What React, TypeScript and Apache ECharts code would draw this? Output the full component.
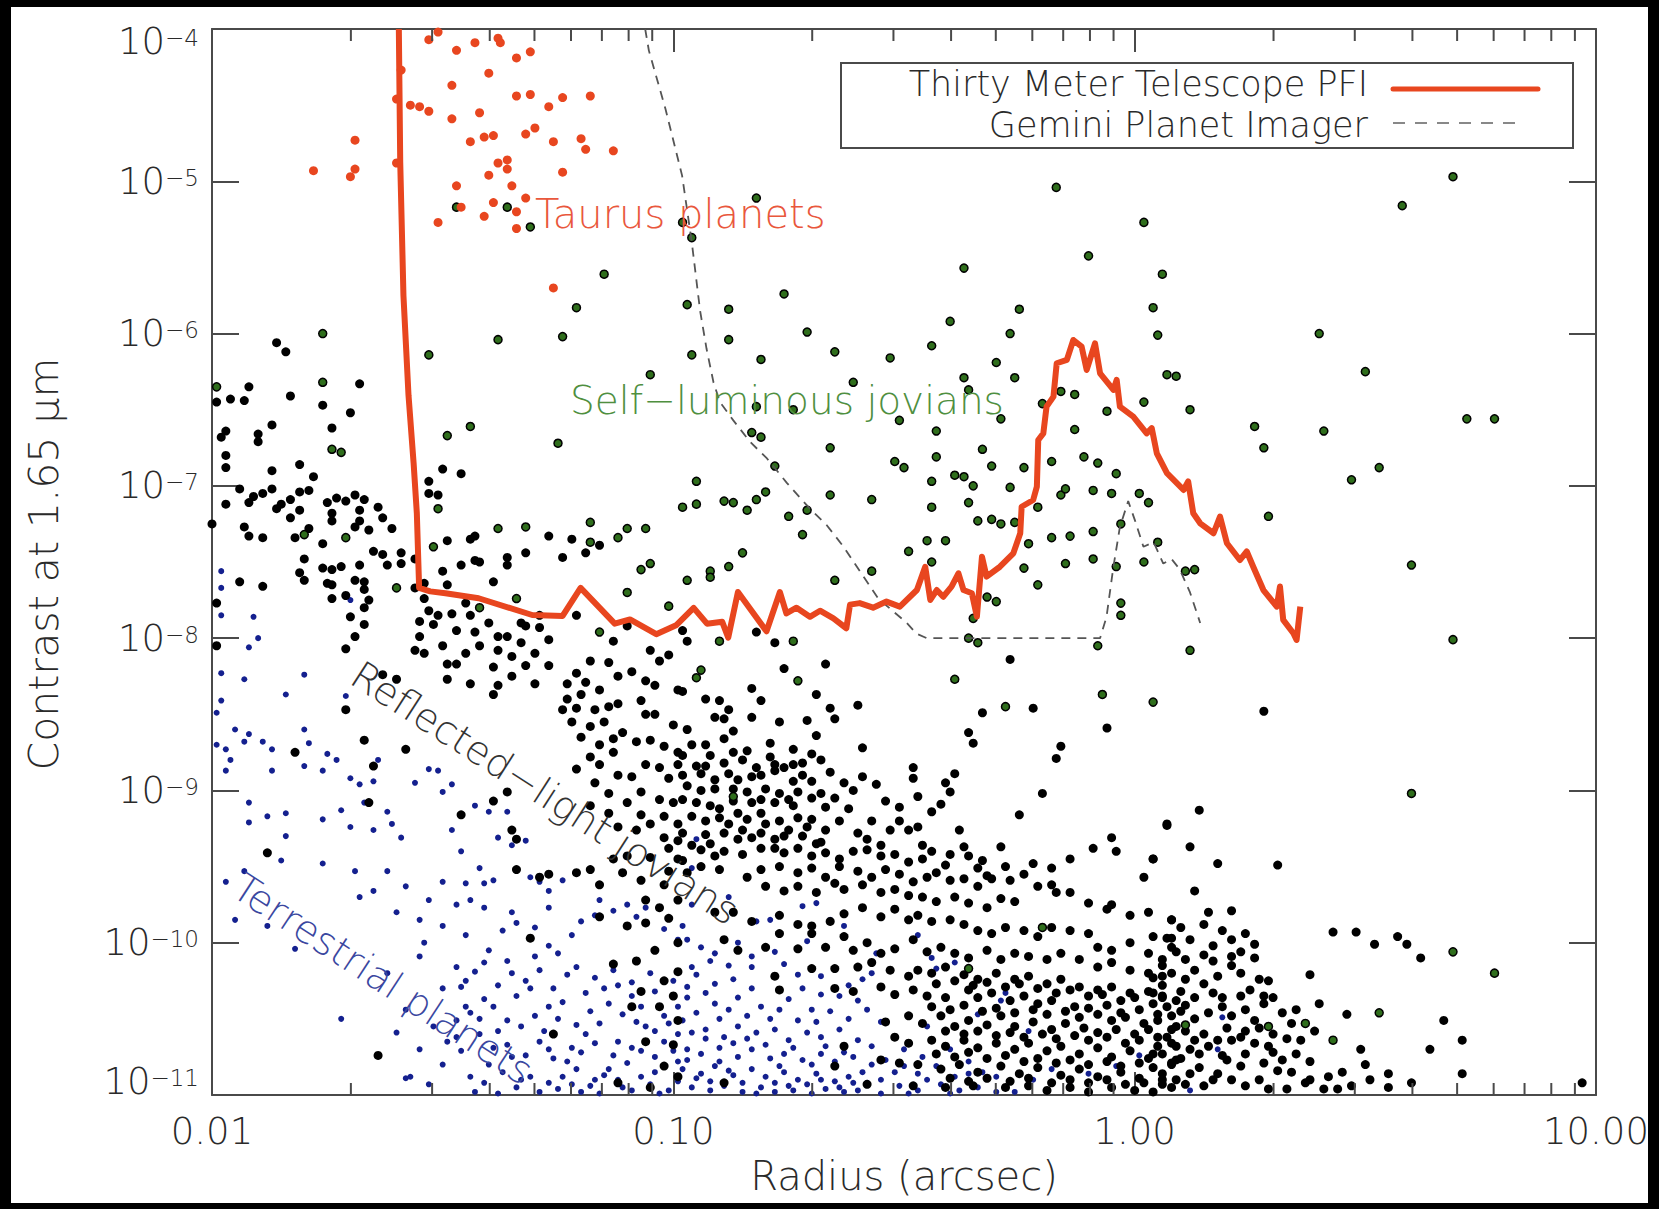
import React, { useEffect, useRef } from 'react';
import * as echarts from 'echarts';

// All point values are stored as [log10(radius in arcsec), log10(contrast)].
const minorTicks = [0.02, 0.03, 0.04, 0.05, 0.06, 0.07, 0.08, 0.09, 0.2, 0.3, 0.4, 0.5, 0.6, 0.7, 0.8, 0.9, 2, 3, 4, 5, 6, 7, 8, 9];
const yEndExponents = [-4, -11];

const taurus = [
  [-1.51,-4.02],[-1.53,-4.07],[-1.47,-4.14],[-1.43,-4.09],[-1.38,-4.06],[-1.375,-4.09],[-1.34,-4.19],[-1.31,-4.15],[-1.40,-4.29],[-1.48,-4.37],
  [-1.34,-4.44],[-1.31,-4.43],[-1.24,-4.45],[-1.18,-4.44],[-1.27,-4.51],[-1.60,-4.46],[-1.57,-4.50],[-1.55,-4.51],[-1.53,-4.54],[-1.48,-4.59],
  [-1.42,-4.55],[-1.69,-4.73],[-1.44,-4.74],[-1.41,-4.71],[-1.39,-4.70],[-1.32,-4.69],[-1.30,-4.65],[-1.26,-4.74],[-1.20,-4.72],[-1.19,-4.79],
  [-1.13,-4.80],[-1.78,-4.93],[-1.69,-4.92],[-1.70,-4.97],[-1.60,-4.88],[-1.38,-4.88],[-1.36,-4.86],[-1.36,-4.92],[-1.40,-4.96],[-1.24,-4.94],
  [-1.47,-5.03],[-1.35,-5.03],[-1.32,-5.11],[-1.46,-5.17],[-1.39,-5.14],[-1.34,-5.20],[-1.51,-5.27],[-1.41,-5.23],[-1.34,-5.31],[-1.26,-5.70],
  [-1.59,-4.27]
];

const selfLuminous = [
  [-1.47,-5.17],[-1.36,-5.17],[-1.31,-5.30],[-1.15,-5.61],[-1.21,-5.83],[-0.97,-5.81],[-0.96,-5.37],[-0.98,-5.27],[-1.38,-6.04],[-1.24,-6.02],
  [-0.96,-6.14],[-1.53,-6.14],[-1.76,-6.00],[-1.05,-6.27],[-1.76,-6.32],[-1.99,-6.35],[-1.44,-6.61],[-1.49,-6.67],[-1.25,-6.72],[-1.74,-6.76],
  [-1.72,-6.78],[-0.95,-6.97],[-0.98,-7.14],[-0.95,-7.12],[-1.51,-7.15],[-1.38,-7.28],[-1.32,-7.27],[-1.18,-7.24],[-1.10,-7.28],[-1.06,-7.28],
  [-1.18,-7.37],[-1.12,-7.34],[-1.71,-7.34],[-1.80,-7.32],[-1.52,-7.40],
  [-0.82,-5.11],[-0.17,-5.04],[0.02,-5.27],[-0.10,-5.49],[-0.37,-5.57],[0.06,-5.61],[-0.76,-5.74],[-0.88,-5.84],[-0.25,-5.84],[0.04,-5.83],
  [-0.40,-5.92],[-0.71,-5.99],[-0.27,-6.00],[0.05,-6.01],[-0.88,-6.04],[-0.44,-6.08],[-0.81,-6.17],[-0.65,-6.12],[-0.53,-6.16],[-0.30,-6.19],
  [0.07,-6.27],[0.09,-6.28],[-0.61,-6.32],[-0.37,-6.29],[-0.26,-6.29],[-0.36,-6.37],[0.12,-6.50],[0.02,-6.45],[-0.13,-6.40],[-0.16,-6.38],
  [-0.20,-6.46],[-0.06,-6.51],[-0.82,-6.48],[-0.74,-6.50],[-0.51,-6.57],[-0.29,-6.56],[-0.13,-6.63],[-0.83,-6.65],[-0.81,-6.68],[-0.43,-6.64],
  [-0.66,-6.75],[-0.33,-6.76],[-0.78,-6.87],[-0.52,-6.84],[-0.50,-6.88],[-0.43,-6.81],[-0.31,-6.87],[-0.24,-6.88],[-0.18,-6.84],[-0.11,-6.81],
  [-0.08,-6.85],[-0.04,-6.92],[-0.39,-6.93],[-0.37,-6.94],[-0.35,-7.00],[-0.44,-6.97],[-0.27,-7.01],[-0.16,-7.06],[-0.15,-7.02],[-0.09,-7.03],
  [-0.05,-7.05],[0.01,-7.05],[0.03,-7.11],[-0.82,-7.09],[-0.80,-7.04],[-0.89,-7.10],[-0.87,-7.11],[-0.84,-7.16],[-0.66,-7.06],[-0.57,-7.09],
  [-0.44,-7.14],[-0.36,-7.11],[-0.21,-7.14],[-0.71,-7.16],[-0.75,-7.20],[-0.72,-7.32],[-0.34,-7.23],[-0.31,-7.22],[-0.29,-7.25],[-0.26,-7.24],
  [-0.18,-7.34],[-0.14,-7.33],[-0.09,-7.30],[-0.03,-7.25],[-0.45,-7.36],[-0.41,-7.36],[-0.23,-7.38],[0.05,-7.37],
  [-0.49,-7.43],[-0.44,-7.50],[-0.24,-7.54],[-0.21,-7.65],[-0.32,-7.73],[-0.30,-7.76],[-0.15,-7.51],[-0.09,-7.48],[-0.04,-7.53],[0.02,-7.50],
  [0.69,-4.97],[0.58,-5.16],[0.40,-6.00],[0.50,-6.25],[0.26,-6.61],[0.41,-6.64],[0.28,-6.75],[0.72,-6.56],[0.78,-6.56],[0.53,-6.88],
  [0.47,-6.96],[0.29,-7.20],[0.60,-7.52],[0.11,-7.56],[0.13,-7.55],
  [-0.90,-8.02],[-0.74,-8.02],[-0.95,-8.26],[-0.94,-8.21],[-0.73,-8.28],[-0.39,-8.27],[-0.35,-7.87],[-0.36,-8.00],[-0.34,-8.03],[-0.08,-8.05],
  [-0.03,-7.77],[-0.03,-7.85],[-0.28,-8.45],[-0.07,-8.37],[0.04,-8.42],[-0.87,-9.04],[-0.20,-9.90],[-0.36,-10.17],
  [0.12,-8.08],[0.69,-8.01],[0.60,-9.02],[0.69,-10.06],[0.78,-10.20],[0.53,-10.46],[0.43,-10.64],[0.37,-10.53],[0.29,-10.55],[0.11,-10.54],
  [-1.60,-7.67],[-1.42,-7.80],[-1.34,-7.74],
  [-1.16,-7.96],[-1.10,-7.70],[-1.07,-7.55],[-1.05,-7.51],[-1.01,-7.79],[-0.97,-7.62],[-0.92,-7.56],[-0.92,-7.60],[-0.88,-7.53],
  [-0.85,-7.44],[-0.65,-7.62],[-0.57,-7.56]
];

const reflected = [
  [-1.86,-6.06],[-1.84,-6.12],[-1.92,-6.35],[-1.96,-6.43],[-1.93,-6.44],[-1.99,-6.45],[-1.83,-6.41],[-1.76,-6.47],[-1.68,-6.33],[-1.70,-6.52],
  [-1.87,-6.60],[-1.74,-6.62],[-1.97,-6.64],[-1.98,-6.68],[-1.90,-6.66],[-1.90,-6.71],[-1.97,-6.80],[-1.97,-6.88],[-1.87,-6.90],[-1.81,-6.86],
  [-1.78,-6.94],[-1.50,-6.89],[-1.46,-6.92],[-1.53,-6.97],[-1.53,-7.05],[-1.51,-7.06],
  [-1.94,-7.02],[-1.97,-7.12],[-1.92,-7.11],[-1.91,-7.07],[-1.89,-7.05],[-1.87,-7.02],[-1.86,-7.15],[-1.85,-7.12],[-1.83,-7.09],[-1.81,-7.04],
  [-1.79,-7.03],[-1.83,-7.21],[-1.81,-7.16],[-1.75,-7.11],[-1.73,-7.08],[-1.71,-7.10],[-1.69,-7.06],[-1.67,-7.09],[-1.74,-7.18],[-1.74,-7.23],
  [-1.68,-7.16],[-1.68,-7.23],[-1.64,-7.14],[-1.63,-7.21],[-1.66,-7.29],[-1.69,-7.27],[-1.61,-7.28],[-1.93,-7.27],[-1.92,-7.33],[-1.89,-7.34],
  [-1.82,-7.34],[-1.79,-7.28],[-1.76,-7.38],[-2.00,-7.25],[-1.49,-7.36],[-1.44,-7.35],[-1.43,-7.33],[-1.27,-7.33],[-1.22,-7.35],[-1.16,-7.39],
  [-1.65,-7.43],[-1.63,-7.45],[-1.59,-7.44],[-1.59,-7.51],[-1.62,-7.52],[-1.68,-7.52],[-1.56,-7.48],[-1.76,-7.54],[-1.74,-7.55],[-1.72,-7.53],
  [-1.80,-7.48],[-1.81,-7.57],[-1.80,-7.62],[-1.94,-7.63],[-1.89,-7.66],[-1.75,-7.64],[-1.74,-7.65],[-1.69,-7.62],[-1.67,-7.63],[-1.67,-7.68],
  [-1.74,-7.74],[-1.71,-7.72],[-1.66,-7.75],[-1.67,-7.80],[-1.99,-7.77],[-1.70,-7.86],[-1.67,-7.91],[-1.69,-7.99],[-1.71,-8.07],[-1.99,-8.05],
  [-1.56,-7.67],[-1.54,-7.64],[-1.54,-7.74],[-1.55,-7.89],[-1.55,-7.99],[-1.56,-8.08],[-1.54,-8.10],[-1.51,-7.85],[-1.52,-7.91],[-1.49,-7.65],
  [-1.48,-7.84],[-1.44,-7.85],[-1.45,-7.77],[-1.50,-7.56],[-1.46,-7.52],[-1.43,-7.49],[-1.42,-7.50],[-1.39,-7.63],[-1.36,-7.47],[-1.36,-7.52],
  [-1.32,-7.44],[-1.40,-7.90],[-1.38,-7.99],[-1.36,-7.99],[-1.33,-7.90],[-1.32,-7.92],[-1.35,-8.12],[-1.32,-8.18],[-1.39,-8.19],[-1.49,-8.17],
  [-1.47,-8.17],[-1.49,-8.27],[-1.44,-8.30],[-1.38,-8.31],[-1.63,-8.24],[-1.60,-8.27],[-1.39,-8.37],
  [-1.53,-7.82],[-1.47,-7.95],[-1.43,-7.96],[-1.42,-8.05],[-1.38,-8.08],[-1.33,-8.03],[-1.30,-8.10],[-1.27,-8.18],[-1.45,-8.10],[-1.50,-8.05],
  [-1.35,-8.25],[-1.30,-8.30],
  [-1.24,-7.47],[-1.19,-7.44],[-1.29,-7.85],[-1.29,-7.93],[-1.27,-8.01],[-1.21,-7.85],[-1.18,-8.15],[-1.14,-8.16],[-1.10,-7.92],[-1.05,-8.08],
  [-1.03,-8.15],[-1.09,-8.22],[-1.06,-8.28],[-1.04,-8.31],[-0.99,-8.34],[-1.21,-8.23],[-1.23,-8.30],[-1.19,-8.29],[-1.16,-8.34],[-1.20,-8.37],
  [-1.23,-8.40],[-1.12,-8.25],[-1.01,-8.11],[-1.13,-8.02],
  [-1.24,-8.47],[-1.21,-8.46],[-1.17,-8.47],[-1.14,-8.45],[-1.12,-8.43],[-1.07,-8.41],[-1.06,-8.50],[-1.04,-8.50],[-1.00,-8.57],[-1.11,-8.62],
  [-1.08,-8.68],[-1.05,-8.67],[-1.02,-8.71],[-0.99,-8.75],[-1.13,-8.75],[-1.16,-8.83],[-1.12,-8.90],[-1.09,-8.91],[-1.06,-8.83],[-1.03,-8.85],
  [-1.01,-8.92],[-0.99,-8.83],[-1.07,-9.01],[-1.03,-9.06],[-1.00,-9.08],[-1.02,-9.17],[-0.99,-9.22],[-1.05,-9.22],[-1.08,-9.26],[-1.12,-9.24],
  [-0.99,-9.33],[-1.02,-9.31],[-1.01,-9.38],[-1.05,-9.44],[-1.10,-9.43],[-1.13,-9.45],[-1.18,-9.52],[-1.21,-9.54],[-1.16,-9.62],[-1.11,-9.54],
  [-1.07,-9.59],[-1.02,-9.62],[-1.01,-9.53],[-0.99,-9.45],[-1.06,-9.72],[-1.03,-9.77],[-0.99,-9.72],[-1.16,-9.83],[-1.10,-9.89],[-1.06,-9.87],
  [-1.01,-9.84],[-0.99,-10.00],[-1.04,-10.05],[-1.08,-10.12],[-1.13,-10.14],[-0.99,-10.19],[-1.02,-10.25],[-1.00,-10.35],[-1.07,-10.32],[-0.99,-10.51],
  [-1.03,-10.42],[-1.09,-10.42],[-1.06,-10.65],[-1.00,-10.67],[-1.02,-10.81],[-0.99,-10.88],[-1.05,-10.95],[-1.12,-10.92],
  [-1.22,-8.55],[-1.18,-8.58],[-1.15,-8.55],[-1.20,-8.65],[-1.16,-8.70],[-1.13,-8.66],[-1.18,-8.78],[-1.21,-8.86],[-1.17,-8.95],[-1.14,-9.02],
  [-1.10,-9.08],[-1.18,-9.10],[-1.14,-9.15],[-1.07,-9.16],
  [-1.71,-8.47],[-1.67,-8.67],[-1.58,-8.73],[-1.82,-8.75],[-1.88,-9.41],[-1.65,-8.84],[-1.66,-9.08],[-1.46,-9.16],[-1.39,-9.07],[-1.36,-9.01],
  [-1.35,-9.26],[-1.34,-9.32],[-1.34,-9.52],[-1.27,-9.55],[-1.31,-9.97],[-1.29,-9.57],[-1.26,-10.60],[-1.64,-10.74],
  [-0.98,-7.95],[-0.97,-8.02],[-0.82,-7.96],[-0.78,-8.03],[-0.67,-8.17],[-0.76,-8.20],[-0.83,-8.33],[-0.81,-8.41],[-0.98,-8.35],[-0.93,-8.40],
  [-0.90,-8.41],[-0.88,-8.47],[-0.91,-8.52],[-0.89,-8.53],[-0.83,-8.52],[-0.77,-8.55],[-0.71,-8.54],[-0.69,-8.37],[-0.66,-8.46],[-0.65,-8.53],
  [-0.60,-8.44],[-0.69,-8.64],[-0.97,-8.60],[-0.87,-8.61],[-0.89,-8.66],[-0.93,-8.70],[-0.98,-8.77],[-0.84,-8.74],[-0.87,-8.75],[-0.79,-8.69],
  [-0.74,-8.73],[-0.68,-8.80],[-0.78,-8.83],[-0.74,-8.83],[-0.59,-8.72],[-0.27,-8.14],[-0.33,-8.49],[-0.22,-8.46],[-0.06,-8.59],[-0.36,-8.62],
  [-0.35,-8.69],[-0.16,-8.71],[-0.17,-8.79],[-0.48,-8.85],[-0.48,-8.92],[-0.59,-8.91],[-0.56,-8.96],[-0.39,-8.89],[-0.41,-8.95],[-0.40,-9.01],
  [-0.47,-9.04],[-0.54,-9.07],[-0.51,-9.11],[-0.20,-9.02],[-0.25,-9.16],[-0.44,-9.14],[-0.42,-9.09],[-0.51,-9.20],[-0.49,-9.26],[-0.47,-9.24],
  [-0.46,-9.36],[-0.53,-9.26],[-0.38,-9.26],[-0.37,-9.37],[-0.29,-9.37],[-0.09,-9.38],[-0.05,-9.31],[-0.04,-9.40],[0.07,-9.23],[0.04,-9.45],
  [0.02,-9.57],[-0.14,-9.45],[-0.22,-9.48],[-0.18,-9.51],[-0.36,-9.43],[-0.33,-9.46],[-0.41,-9.49],[-0.34,-9.51],
  [-0.96,-8.70],[-0.92,-8.77],[-0.89,-8.82],[-0.85,-8.80],[-0.82,-8.85],[-0.79,-8.78],[-0.76,-8.85],[-0.72,-8.82],[-0.70,-8.76],[-0.66,-8.88],
  [-0.63,-8.95],[-0.61,-9.00],[-0.65,-9.05],[-0.62,-9.12],[-0.64,-9.20],[-0.60,-9.28],[-0.57,-9.20],[-0.58,-9.32],[-0.55,-9.36],[-0.52,-9.42],
  [-0.49,-9.47],[-0.46,-9.45],[-0.44,-9.40],[-0.40,-9.42],[-0.32,-9.56],[-0.28,-9.50],[-0.24,-9.55],[-0.90,-9.12],[-0.88,-9.22],[-0.85,-9.26],
  [-0.80,-9.22],[-0.76,-9.30],[-0.72,-9.30],[-0.69,-9.35],[-0.96,-9.36],[-0.92,-9.35],
  [-0.95,-8.84],[-0.93,-8.84],[-0.94,-8.89],[-0.98,-8.90],[-0.91,-8.93],[-0.88,-8.89],[-0.86,-8.93],[-0.83,-8.91],[-0.81,-8.90],[-0.78,-8.87],
  [-0.74,-8.94],[-0.72,-8.90],[-0.70,-8.94],[-0.97,-8.97],[-0.94,-9.00],[-0.91,-8.99],[-0.87,-8.99],[-0.84,-9.01],[-0.80,-8.99],[-0.77,-9.02],
  [-0.75,-9.06],[-0.73,-9.01],[-0.68,-9.02],[-0.98,-9.06],[-0.95,-9.08],[-0.92,-9.10],[-0.87,-9.07],[-0.83,-9.08],[-0.81,-9.06],[-0.78,-9.08],
  [-0.74,-9.10],[-0.70,-9.05],[-0.67,-9.11],[-0.96,-9.17],[-0.93,-9.20],[-0.90,-9.18],[-0.86,-9.15],[-0.84,-9.19],[-0.81,-9.15],[-0.77,-9.20],
  [-0.73,-9.18],[-0.70,-9.19],[-0.67,-9.26],[-0.98,-9.28],[-0.93,-9.29],[-0.89,-9.28],[-0.86,-9.32],[-0.83,-9.31],[-0.81,-9.28],[-0.78,-9.32],
  [-0.75,-9.26],[-0.71,-9.24],[-0.68,-9.34],[-0.98,-9.46],[-0.94,-9.39],[-0.91,-9.43],[-0.89,-9.40],[-0.85,-9.42],[-0.81,-9.38],[-0.78,-9.38],
  [-0.76,-9.41],[-0.73,-9.38],[-0.70,-9.43],[-0.67,-9.41],[-0.64,-9.45],[-0.61,-9.40],[-0.58,-9.39],[-0.55,-9.43],[-0.97,-9.54],[-0.94,-9.50],
  [-0.90,-9.52],[-0.84,-9.57],[-0.81,-9.52],[-0.77,-9.50],[-0.73,-9.54],[-0.70,-9.51],[-0.67,-9.57],[-0.64,-9.50],[-0.60,-9.53],[-0.57,-9.57],
  [-0.54,-9.52],[-0.51,-9.55],[-0.48,-9.60],[-0.45,-9.57],[-0.43,-9.54],[-0.40,-9.59],[-0.37,-9.58],[-0.34,-9.63],[-0.31,-9.58],[-0.27,-9.59],
  [-0.80,-9.63],[-0.76,-9.66],[-0.73,-9.63],[-0.69,-9.67],[-0.65,-9.61],[-0.63,-9.65],[-0.59,-9.62],[-0.55,-9.67],[-0.52,-9.65],[-0.49,-9.69],
  [-0.46,-9.70],[-0.43,-9.73],[-0.39,-9.70],[-0.36,-9.74],[-0.32,-9.77],[-0.29,-9.71],[-0.26,-9.73],[-0.21,-9.63],[-0.18,-9.62],[-0.17,-9.67],
  [-0.14,-9.67],[-0.10,-9.74],[-0.06,-9.78],[-0.05,-9.75],[-0.01,-9.82],[0.03,-9.80],[0.08,-9.85],[0.08,-9.97],
  [-0.91,-9.80],[-0.87,-9.80],[-0.83,-9.86],[-0.77,-9.82],[-0.73,-9.88],[-0.70,-9.89],[-0.66,-9.86],[-0.63,-9.81],[-0.59,-9.77],[-0.55,-9.83],
  [-0.52,-9.78],[-0.49,-9.85],[-0.47,-9.82],[-0.44,-9.86],[-0.40,-9.85],[-0.37,-9.88],[-0.34,-9.92],[-0.31,-9.94],[-0.28,-9.90],[-0.24,-9.92],
  [-0.21,-9.96],[-0.18,-9.90],[-0.14,-9.92],[-0.10,-9.94],[-0.08,-10.03],[-0.05,-10.05],[-0.01,-10.00],[0.03,-10.07],[0.06,-10.11],[0.08,-10.03],
  [-0.89,-9.98],[-0.86,-10.05],[-0.80,-10.03],[-0.77,-9.94],[-0.73,-10.04],[-0.70,-9.94],[-0.67,-10.03],[-0.63,-9.96],[-0.61,-10.05],[-0.58,-10.00],
  [-0.55,-10.07],[-0.52,-10.04],[-0.48,-9.98],[-0.45,-10.06],[-0.42,-10.03],[-0.39,-10.07],[-0.36,-10.10],[-0.32,-10.05],[-0.29,-10.11],[-0.26,-10.07],
  [-0.23,-10.09],[-0.19,-10.11],[-0.16,-10.07],[-0.12,-10.11],[-0.08,-10.16],[-0.05,-10.13],[-0.01,-10.18],[0.03,-10.20],[0.06,-10.22],[-0.70,-10.17],
  [-0.65,-10.17],[-0.60,-10.16],[-0.57,-10.13],[-0.53,-10.18],[-0.49,-10.22],[-0.47,-10.18],[-0.44,-10.20],[-0.41,-10.16],[-0.37,-10.21],[-0.34,-10.24],
  [-0.30,-10.20],[-0.26,-10.24],[-0.23,-10.22],[-0.19,-10.27],[-0.16,-10.24],[-0.12,-10.29],[-0.08,-10.31],[-0.05,-10.29],[-0.01,-10.33],[0.03,-10.32],
  [0.06,-10.35],[0.09,-10.38],[-0.78,-10.22],[-0.77,-10.31],[-0.65,-10.30],[-0.61,-10.32],[-0.55,-10.29],[-0.52,-10.34],[-0.48,-10.31],[-0.45,-10.35],
  [-0.41,-10.36],[-0.36,-10.31],[-0.34,-10.36],[-0.31,-10.33],[-0.27,-10.38],[-0.24,-10.35],[-0.21,-10.40],[-0.18,-10.38],[-0.13,-10.42],[-0.10,-10.43],
  [-0.06,-10.41],[-0.03,-10.46],[0.01,-10.44],[0.05,-10.47],[0.08,-10.48],
  [-0.43,-10.27],[-0.39,-10.25],[-0.35,-10.28],[-0.32,-10.26],[-0.28,-10.29],[-0.25,-10.27],[-0.21,-10.30],[-0.17,-10.33],[-0.14,-10.31],[-0.10,-10.35],
  [-0.07,-10.34],[-0.03,-10.38],[0.00,-10.36],[0.04,-10.40],[0.07,-10.42],
  [-0.44,-10.42],[-0.40,-10.44],[-0.37,-10.41],[-0.33,-10.45],[-0.30,-10.43],[-0.26,-10.46],[-0.22,-10.44],[-0.19,-10.47],[-0.15,-10.45],[-0.12,-10.49],
  [-0.08,-10.47],[-0.05,-10.51],[-0.02,-10.49],[0.02,-10.53],[0.05,-10.51],[0.09,-10.55],
  [-0.54,-10.52],[-0.49,-10.48],[-0.46,-10.53],[-0.42,-10.48],[-0.39,-10.55],[-0.36,-10.51],[-0.32,-10.54],[-0.29,-10.48],[-0.26,-10.55],[-0.22,-10.52],
  [-0.18,-10.57],[-0.15,-10.53],[-0.11,-10.56],[-0.08,-10.59],[-0.04,-10.57],[0.00,-10.60],[0.03,-10.57],[0.07,-10.62],[-0.52,-10.62],[-0.49,-10.66],
  [-0.41,-10.58],[-0.37,-10.60],[-0.34,-10.58],[-0.30,-10.61],[-0.27,-10.59],[-0.24,-10.62],[-0.20,-10.60],[-0.17,-10.63],[-0.13,-10.61],[-0.10,-10.64],
  [-0.06,-10.62],[-0.02,-10.66],[0.01,-10.64],[0.05,-10.68],[0.08,-10.66],
  [-0.44,-10.64],[-0.41,-10.68],[-0.37,-10.64],[-0.34,-10.69],[-0.30,-10.66],[-0.26,-10.70],[-0.23,-10.66],[-0.19,-10.71],[-0.16,-10.68],[-0.12,-10.73],
  [-0.08,-10.69],[-0.05,-10.75],[-0.01,-10.71],[0.03,-10.76],[0.06,-10.73],[0.09,-10.77],
  [-0.43,-10.73],[-0.39,-10.75],[-0.36,-10.72],[-0.32,-10.76],[-0.28,-10.74],[-0.24,-10.78],[-0.21,-10.76],[-0.17,-10.79],[-0.14,-10.77],[-0.10,-10.80],
  [-0.06,-10.78],[-0.03,-10.81],[0.01,-10.79],[0.04,-10.82],[0.08,-10.80],
  [-0.55,-10.77],[-0.51,-10.79],[-0.47,-10.80],[-0.42,-10.83],[-0.38,-10.80],[-0.34,-10.85],[-0.29,-10.81],[-0.25,-10.86],[-0.21,-10.82],[-0.16,-10.87],
  [-0.12,-10.83],[-0.08,-10.88],[-0.03,-10.85],[0.01,-10.89],[0.06,-10.86],[0.09,-10.90],
  [-0.40,-10.89],[-0.36,-10.91],[-0.32,-10.89],[-0.27,-10.91],[-0.23,-10.89],[-0.18,-10.92],[-0.14,-10.90],[-0.10,-10.92],[-0.06,-10.90],[-0.02,-10.93],
  [0.02,-10.92],[0.06,-10.93],
  [-0.63,-10.68],[-0.65,-10.81],[-0.89,-10.92],[-0.28,-10.95],[-0.23,-10.94],[-0.19,-10.97],[-0.14,-10.95],[-0.10,-10.98],
  [-0.05,-10.95],[0.00,-10.97],[0.04,-10.98],[0.08,-10.95],[-0.48,-10.94],[-0.41,-10.95],[-0.35,-10.94],[-0.58,-10.93],
  [0.28,-8.48],[0.14,-9.13],[0.07,-9.22],[0.12,-9.37],[0.04,-9.45],[0.18,-9.48],[0.31,-9.49],[0.13,-9.66],[0.21,-9.79],[0.08,-9.85],
  [0.15,-9.88],[0.04,-9.96],[0.07,-9.97],[0.21,-9.98],[0.24,-9.94],[0.26,-10.01],[0.43,-9.93],[0.48,-9.93],[0.52,-10.01],[0.57,-9.96],
  [0.59,-10.01],[0.62,-10.10],[0.15,-10.08],[0.17,-10.12],[0.11,-10.11],[0.06,-10.15],[0.21,-10.15],[0.21,-10.09],[0.26,-10.10],[0.38,-10.21],
  [0.29,-10.25],[0.04,-10.23],[0.06,-10.28],[0.15,-10.27],[0.17,-10.33],[0.19,-10.36],[0.23,-10.35],[0.25,-10.31],[0.28,-10.35],[0.30,-10.36],
  [0.28,-10.40],[0.40,-10.40],[0.46,-10.47],[0.67,-10.51],[0.71,-10.64],[0.64,-10.70],[0.49,-10.70],[0.50,-10.80],[0.55,-10.86],[0.60,-10.92],
  [0.71,-10.86],[0.97,-10.92],[0.55,-10.95],[0.51,-10.90],[0.45,-10.85],[0.42,-10.88],[0.38,-10.90],[0.34,-10.85],[0.06,-10.36],[0.04,-10.33],
  [0.11,-10.41],[0.16,-10.46],[0.19,-10.42],[0.21,-10.48],[0.24,-10.44],[0.26,-10.51],[0.32,-10.46],[0.35,-10.44],[0.34,-10.53],[0.33,-10.63],
  [0.35,-10.73],[0.32,-10.77],[0.29,-10.68],[0.28,-10.79],[0.27,-10.90],[0.24,-10.94],[0.21,-10.90],[0.23,-10.81],[0.24,-10.73],[0.23,-10.62],
  [0.20,-10.77],[0.18,-10.86],[0.15,-10.94],[0.12,-10.86],[0.14,-10.73],[0.13,-10.64],[0.09,-10.68],[0.08,-10.79],[0.06,-10.90],[0.04,-10.73],
  [0.05,-10.62],[0.08,-10.57],[0.18,-10.64],[0.20,-10.56],[0.44,-10.96],[0.47,-10.94],[0.41,-10.96],[0.33,-10.96],
  [0.10,-10.32],[0.13,-10.36],[0.10,-10.45],[0.13,-10.50],[0.11,-10.58],[0.15,-10.60],[0.12,-10.70],[0.16,-10.68],[0.10,-10.76],[0.14,-10.82],
  [0.11,-10.93],[0.17,-10.90],[0.19,-10.74],[0.21,-10.64],[0.24,-10.58],[0.27,-10.56],[0.26,-10.66],[0.30,-10.60],[0.30,-10.72],[0.31,-10.84],
  [0.29,-10.96],[0.36,-10.64],[0.38,-10.78],[0.39,-10.58],[0.37,-10.92],
  [0.08,-10.20],[0.11,-10.24],[0.13,-10.18],[0.18,-10.22],[0.23,-10.20],[0.27,-10.24],[0.09,-10.06],[0.12,-9.98],[0.17,-10.02],[0.19,-9.92],
  [0.10,-9.90],[0.16,-9.80],[0.23,-10.06]
];

const terrestrial = [
  [-1.98,-7.56],[-1.98,-7.67],[-1.98,-7.85],[-1.91,-7.86],[-1.92,-8.06],[-1.90,-8.00],[-1.98,-8.23],[-1.93,-8.27],[-1.80,-8.24],[-1.84,-8.37],
  [-1.70,-7.75],[-1.71,-8.38],[-1.58,-10.89],
  [-1.98,-8.41],[-1.99,-8.49],[-1.95,-8.60],[-1.92,-8.63],[-1.93,-8.68],[-1.99,-8.70],[-1.97,-8.73],[-1.96,-8.80],[-1.97,-8.87],[-1.89,-8.68],
  [-1.87,-8.73],[-1.87,-8.87],[-1.92,-9.08],[-1.92,-9.21],[-1.88,-9.17],[-1.84,-9.15],[-1.84,-9.30],[-1.85,-9.46],[-1.93,-9.53],[-1.97,-9.60],
  [-1.95,-9.85],[-1.88,-9.89],[-1.82,-10.04],[-1.80,-8.60],[-1.79,-8.69],[-1.75,-8.76],[-1.76,-8.87],[-1.73,-8.80],[-1.80,-8.84],[-1.76,-9.19],
  [-1.76,-9.48],[-1.72,-9.13],[-1.70,-9.24],[-1.70,-8.92],[-1.68,-8.96],[-1.67,-9.08],[-1.65,-9.26],[-1.65,-8.94],[-1.64,-8.80],[-1.62,-9.14],
  [-1.61,-9.22],[-1.59,-9.31],[-1.69,-9.53],[-1.65,-9.66],[-1.68,-9.70],[-1.62,-9.53],[-1.58,-9.63],[-1.56,-8.95],[-1.53,-8.86],[-1.51,-8.87],
  [-1.50,-9.01],[-1.48,-8.96],[-1.48,-9.26],[-1.46,-9.40],[-1.42,-9.51],[-1.41,-9.61],[-1.45,-9.61],[-1.39,-9.59],[-1.38,-9.31],[-1.43,-9.10],
  [-1.40,-9.14],[-1.36,-9.14],[-1.35,-9.36],[-1.32,-9.33],[-1.29,-9.60],[-1.27,-9.66],[-1.24,-9.59],[-1.27,-9.77],[-1.31,-9.57],[-1.34,-9.87],
  [-1.37,-9.92],[-1.41,-9.77],[-1.44,-9.72],[-1.47,-9.75],[-1.53,-9.72],[-1.50,-9.89],[-1.54,-10.00],[-1.55,-10.09],[-1.58,-10.44],[-1.60,-10.59],
  [-1.72,-10.50],[-1.57,-10.88],[-1.53,-10.93],[-1.47,-10.16],[-1.43,-10.19],[-1.46,-10.29],[-1.41,-10.13],[-1.38,-10.28],[-1.36,-10.12],[-1.34,-10.35],
  [-1.31,-10.30],[-1.30,-10.09],[-1.27,-10.02],[-1.25,-10.07],[-1.22,-9.95],[-1.20,-9.86],[-1.17,-9.82],[-1.16,-9.72],[-1.13,-9.79],[-1.10,-9.75],
  [-1.08,-9.83],[-1.06,-9.77],[-1.02,-9.91],[-0.99,-9.98],[-1.23,-10.21],[-1.21,-10.16],[-1.17,-10.23],[-1.15,-10.30],[-1.12,-10.28],[-1.09,-10.35],
  [-1.07,-10.42],[-1.04,-10.32],[-1.02,-10.48],[-0.99,-10.42],[-1.24,-10.39],[-1.27,-10.42],[-1.30,-10.48],[-1.33,-10.55],[-1.36,-10.51],[-1.39,-10.42],
  [-1.41,-10.37],[-1.44,-10.46],[-1.47,-10.51],[-1.49,-10.65],[-1.46,-10.71],[-1.42,-10.60],[-1.39,-10.69],[-1.36,-10.67],[-1.32,-10.74],[-1.29,-10.65],
  [-1.26,-10.76],[-1.22,-10.69],[-1.19,-10.60],[-1.16,-10.53],[-1.12,-10.65],[-1.09,-10.69],[-1.06,-10.55],[-1.02,-10.65],[-0.99,-10.60],[-1.24,-10.88],
  [-1.21,-10.83],[-1.17,-10.90],[-1.14,-10.83],[-1.11,-10.95],[-1.07,-10.88],[-1.04,-10.85],[-1.01,-10.97],[-0.99,-10.78],[-1.27,-10.92],[-1.31,-10.88],
  [-1.34,-10.95],[-1.37,-10.85],[-1.41,-10.92],[-1.44,-10.88],[-1.16,-10.99],[-1.20,-10.98],
  [-1.28,-10.58],[-1.25,-10.50],[-1.21,-10.54],[-1.18,-10.45],[-1.14,-10.40],[-1.11,-10.47],[-1.08,-10.52],[-1.04,-10.58],[-1.01,-10.53],[-0.97,-10.36],
  [-0.93,-10.33],[-0.90,-10.50],[-0.86,-10.36],[-0.83,-10.30],[-0.79,-10.50],[-0.75,-10.37],[-0.72,-10.30],[-0.69,-10.52],[-0.66,-10.45],[-0.62,-10.50],
  [-0.60,-10.38],[-1.27,-10.70],[-1.23,-10.78],[-1.20,-10.72],[-1.17,-10.66],[-1.13,-10.74],[-1.10,-10.79],[-1.07,-10.71],[-1.04,-10.75],[-1.00,-10.71],
  [-0.97,-10.77],[-0.93,-10.63],[-0.90,-10.78],[-0.87,-10.66],[-0.84,-10.63],[-0.80,-10.67],[-0.77,-10.81],[-0.74,-10.69],[-0.70,-10.80],[-0.67,-10.68],
  [-0.63,-10.72],[-0.59,-10.85],[-1.29,-10.98],[-1.25,-10.96],[-1.22,-10.93],[-1.18,-10.94],[-1.15,-10.87],[-1.12,-10.90],[-1.09,-10.97],[-1.05,-10.93],
  [-1.03,-10.99],[-0.99,-10.91],[-0.95,-10.89],[-0.92,-10.91],[-0.88,-10.84],[-0.85,-10.92],[-0.82,-10.99],[-0.78,-10.92],[-0.75,-10.94],[-0.71,-10.93],
  [-0.68,-10.90],[-0.64,-10.95],[-0.61,-10.92],[-1.35,-10.20],[-1.32,-10.25],[-1.29,-10.18],[-1.26,-10.30],[-1.19,-10.33],[-1.13,-10.18],[-1.09,-10.26],
  [-1.05,-10.20],[-1.00,-10.25],[-0.95,-10.21],[-0.92,-10.12],[-0.88,-10.15],[-0.76,-10.14],[-0.68,-10.22],[-0.62,-10.28],[-1.45,-10.42],[-1.42,-10.50],
  [-1.38,-10.58],[-1.35,-10.75],[-1.40,-10.80],[-1.47,-10.62],[-1.43,-10.98],[-1.38,-10.99],[-1.33,-10.90],[-1.50,-10.80],[-1.52,-10.55],[-1.55,-10.70],
  [-0.52,-10.85],[-0.49,-10.99],[-0.45,-10.90],[-0.40,-10.99],[-0.50,-10.70],[-0.46,-10.75],[-0.40,-10.70],[-0.36,-10.78],[-0.30,-10.88],[-0.26,-10.98],
  [-0.22,-10.90],[-1.60,-9.80],[-1.55,-9.85],[-1.50,-9.60],[-1.45,-9.95],[-1.40,-10.05],[-1.35,-9.80],[-1.30,-9.90],[-1.62,-10.20],[-1.50,-10.30],
  [-1.45,-10.25],
  [-0.95,-9.32],[-0.96,-9.51],[-0.88,-9.70],[-0.96,-9.75],[-0.98,-9.89],[-0.97,-9.98],[-0.94,-10.03],[-0.91,-10.07],[-0.86,-10.00],[-0.83,-10.09],
  [-0.79,-9.85],[-0.82,-9.86],[-0.72,-9.76],[-0.69,-9.74],[-0.66,-9.85],[-0.63,-9.89],[-0.71,-9.99],[-0.78,-10.06],[-0.73,-10.21],[-0.83,-10.16],
  [-0.87,-10.24],[-0.91,-10.27],[-0.96,-10.16],[-0.97,-10.29],[-0.59,-10.24],[-0.57,-10.20],[-0.56,-10.07],[-0.47,-9.95],[-0.44,-10.10],[-0.39,-10.13],
  [-0.43,-10.17],[-0.28,-10.33],[-0.29,-10.38],[-0.34,-10.47],[-0.23,-10.58],[-0.45,-10.55],[-0.55,-10.52],[-0.58,-10.44],[-0.64,-10.35],[-0.68,-10.34],
  [-0.70,-10.44],[-0.73,-10.51],[-0.77,-10.44],[-0.81,-10.42],[-0.84,-10.48],[-0.88,-10.44],[-0.91,-10.40],[-0.95,-10.46],[-0.98,-10.51],[-0.96,-10.59],
  [-0.93,-10.57],[-0.89,-10.62],[-0.86,-10.55],[-0.82,-10.59],[-0.78,-10.57],[-0.75,-10.64],[-0.71,-10.59],[-0.68,-10.62],[-0.64,-10.57],[-0.60,-10.64],
  [-0.57,-10.68],[-0.97,-10.70],[-0.94,-10.73],[-0.90,-10.69],[-0.86,-10.75],[-0.83,-10.70],[-0.79,-10.76],[-0.76,-10.73],[-0.72,-10.77],[-0.68,-10.73],
  [-0.65,-10.78],[-0.61,-10.75],[-0.57,-10.80],[-0.54,-10.77],[-0.50,-10.81],[-0.47,-10.86],[-0.43,-10.81],[-0.39,-10.88],[-0.36,-10.86],[-0.33,-10.85],
  [-0.98,-10.83],[-0.94,-10.86],[-0.91,-10.81],[-0.87,-10.87],[-0.83,-10.83],[-0.80,-10.88],[-0.76,-10.85],[-0.73,-10.90],[-0.69,-10.86],[-0.65,-10.91],
  [-0.62,-10.88],[-0.58,-10.92],[-0.55,-10.90],[-0.51,-10.94],[-0.47,-10.97],[-0.42,-10.93],[-0.38,-10.97],[-0.34,-10.95],[-0.30,-10.98],[-0.96,-10.95],
  [-0.92,-10.97],[-0.89,-10.94],[-0.85,-10.98],[-0.81,-10.95],[-0.78,-10.98],[-0.74,-10.97],[-0.70,-10.99],[-0.67,-10.96],[-0.63,-10.98],[-0.60,-10.97],
  [-0.55,-10.99],[-0.18,-10.83],[-0.14,-10.91],[-0.04,-10.81],[0.01,-10.74],[-0.10,-10.86],
  [0.19,-10.49],[0.18,-10.70],[0.12,-10.97]
];

const tmtCurve = [
  [-1.595,-4.0],[-1.592,-4.875],[-1.585,-5.751],[-1.574,-6.407],[-1.563,-6.85],[-1.556,-7.18],[-1.551,-7.67],[-1.527,-7.693],[-1.494,-7.705],[-1.422,-7.738],
  [-1.306,-7.848],[-1.240,-7.854],[-1.201,-7.670],[-1.127,-7.905],[-1.094,-7.877],[-1.037,-7.974],[-0.994,-7.916],[-0.956,-7.801],[-0.927,-7.905],[-0.894,-7.893],
  [-0.881,-7.997],[-0.860,-7.697],[-0.798,-7.955],[-0.769,-7.697],[-0.755,-7.837],[-0.733,-7.80],[-0.704,-7.86],[-0.682,-7.82],[-0.653,-7.87],[-0.625,-7.935],
  [-0.617,-7.78],[-0.596,-7.77],[-0.567,-7.80],[-0.538,-7.76],[-0.509,-7.793],[-0.472,-7.684],[-0.454,-7.531],[-0.443,-7.749],[-0.429,-7.684],[-0.415,-7.728],
  [-0.397,-7.662],[-0.382,-7.574],[-0.371,-7.684],[-0.353,-7.705],[-0.342,-7.859],[-0.331,-7.465],[-0.321,-7.596],[-0.292,-7.531],[-0.263,-7.443],[-0.248,-7.311],
  [-0.245,-7.137],[-0.220,-7.093],[-0.212,-7.005],[-0.209,-6.699],[-0.198,-6.655],[-0.191,-6.480],[-0.176,-6.414],[-0.169,-6.195],[-0.147,-6.173],[-0.133,-6.042],
  [-0.115,-6.086],[-0.104,-6.239],[-0.086,-6.064],[-0.075,-6.261],[-0.046,-6.370],[-0.039,-6.304],[-0.032,-6.480],[-0.003,-6.546],[0.026,-6.655],[0.037,-6.621],
  [0.048,-6.786],[0.070,-6.917],[0.106,-7.027],[0.116,-6.971],[0.127,-7.180],[0.142,-7.246],[0.171,-7.311],[0.185,-7.202],[0.200,-7.377],[0.228,-7.487],
  [0.243,-7.431],[0.257,-7.531],[0.279,-7.684],[0.308,-7.793],[0.315,-7.661],[0.322,-7.880],[0.344,-7.968],[0.351,-8.012],[0.359,-7.793]
];

const gpiCurve = [
  [-1.061,-4.0],[-1.053,-4.142],[-1.017,-4.525],[-0.981,-4.963],[-0.960,-5.40],[-0.942,-5.85],[-0.928,-6.10],[-0.913,-6.32],[-0.899,-6.45],[-0.870,-6.57],
  [-0.834,-6.71],[-0.797,-6.82],[-0.754,-6.98],[-0.704,-7.15],[-0.667,-7.26],[-0.631,-7.40],[-0.556,-7.74],[-0.494,-7.90],[-0.473,-7.97],[-0.451,-8.0],
  [-0.075,-8.0],[-0.061,-7.86],[-0.046,-7.53],[-0.032,-7.27],[-0.014,-7.10],[0.001,-7.23],[0.019,-7.40],[0.041,-7.37],[0.062,-7.51],[0.080,-7.48],
  [0.098,-7.55],[0.120,-7.70],[0.142,-7.90]
];

const toXY = (p: number[]) => [Math.pow(10, p[0]), Math.pow(10, p[1])];

const FONT = '"DejaVu Sans", "Liberation Sans", sans-serif';
const TXT = '#2a2a2a';
const AX = '#4a4a4a';

export default function App() {
  const ref = useRef<HTMLDivElement>(null);
  useEffect(() => {
    document.body.style.margin = '0';
    const chart = echarts.init(ref.current!, null, { renderer: 'svg' });
    const xBase = {
      type: 'log', logBase: 10, min: 0.01, max: 10, splitNumber: 3,
      axisLine: { show: true, lineStyle: { color: AX, width: 2 } },
      axisTick: { show: true, inside: true, length: 23, lineStyle: { color: AX, width: 2 } },
      splitLine: { show: false },
      minorTick: { show: false },
    };
    const yBase = {
      type: 'log', logBase: 10, min: 1e-11, max: 1e-4, splitNumber: 7,
      axisLine: { show: true, lineStyle: { color: AX, width: 2 } },
      axisTick: { show: true, inside: true, length: 27, lineStyle: { color: AX, width: 2 } },
      splitLine: { show: false },
    };
    const baseTok = { fontSize: 37, fontFamily: FONT, fontWeight: 200, color: TXT, lineHeight: 30 };
    const supTok = { fontSize: 23, fontFamily: FONT, fontWeight: 200, color: TXT, lineHeight: 18, verticalAlign: 'top' };
    const gBase = { fontSize: 37, fontFamily: FONT, fontWeight: 200, fill: TXT, lineHeight: 30 };
    const gSup = { fontSize: 23, fontFamily: FONT, fontWeight: 200, fill: TXT, lineHeight: 18, verticalAlign: 'top' };
    const endLabelY = [41, 1081];
    chart.setOption({
      animation: false,
      backgroundColor: '#000',
      grid: { left: 212, top: 29, width: 1384, height: 1066, containLabel: false },
      xAxis: [
        {
          ...xBase, position: 'bottom',
          axisLabel: {
            show: true, margin: 16, color: TXT, fontSize: 37, fontFamily: FONT, fontWeight: 200, lineHeight: 40,
            formatter: (v: number) => v.toFixed(2),
          },
        },
        { ...xBase, position: 'top', axisLabel: { show: false } },
      ],
      yAxis: [
        {
          ...yBase, position: 'left',
          axisLabel: {
            show: true, margin: 13,
            formatter: (v: number) => {
              const e = Math.round(Math.log10(v));
              if (yEndExponents.includes(e)) return '';
              return `{b|10}{s|\u2212${Math.abs(e)}}`;
            },
            rich: { b: baseTok, s: supTok },
          },
        },
        { ...yBase, position: 'right', axisLabel: { show: false } },
      ],
      graphic: [
        { type: 'rect', z: -100, silent: true, shape: { x: 11, y: 7, width: 1637, height: 1196 }, style: { fill: '#fff' } },
        ...yEndExponents.map((e, i) => ({
          type: 'text', x: 199, y: endLabelY[i], z: 100, silent: true,
          style: { text: `{b|10}{s|\u2212${Math.abs(e)}}`, rich: { b: gBase, s: gSup }, align: 'right', verticalAlign: 'middle' },
        })),
        { type: 'text', x: 904, y: 1176, z: 100, style: { text: 'Radius (arcsec)', font: `200 40px ${FONT}`, fill: TXT, align: 'center', verticalAlign: 'middle' } },
        { type: 'text', x: 44, y: 564, z: 100, rotation: Math.PI / 2, style: { text: 'Contrast at 1.65 \u03bcm', font: `200 41px ${FONT}`, fill: TXT, align: 'center', verticalAlign: 'middle' } },
        { type: 'text', x: 535, y: 214, z: 100, style: { text: 'Taurus planets', font: `200 40px ${FONT}`, fill: '#e9573c', align: 'left', verticalAlign: 'middle' } },
        { type: 'text', x: 570, y: 400, z: 100, style: { text: 'Self\u2212luminous jovians', font: `200 39px ${FONT}`, fill: '#4f8f3f', align: 'left', verticalAlign: 'middle' } },
        { type: 'text', x: 545, y: 793, z: 100, rotation: -0.57, style: { text: 'Reflected\u2212light jovians', font: `200 39px ${FONT}`, fill: '#333', align: 'center', verticalAlign: 'middle' } },
        { type: 'text', x: 383, y: 979, z: 100, rotation: -0.58, style: { text: 'Terrestrial planets', font: `200 39px ${FONT}`, fill: '#3a47a0', align: 'center', verticalAlign: 'middle' } },
        { type: 'rect', z: 100, shape: { x: 841, y: 63, width: 732, height: 85 }, style: { fill: '#fff', stroke: AX, lineWidth: 2 } },
        { type: 'text', x: 1368, y: 84, z: 101, style: { text: 'Thirty Meter Telescope PFI', font: `200 35px ${FONT}`, fill: TXT, align: 'right', verticalAlign: 'middle' } },
        { type: 'text', x: 1368, y: 125, z: 101, style: { text: 'Gemini Planet Imager', font: `200 35px ${FONT}`, fill: TXT, align: 'right', verticalAlign: 'middle' } },
        { type: 'line', z: 101, shape: { x1: 1393, y1: 89, x2: 1538, y2: 89 }, style: { stroke: '#e8461f', lineWidth: 5, lineCap: 'round' } },
        { type: 'line', z: 101, shape: { x1: 1393, y1: 123, x2: 1525, y2: 123 }, style: { stroke: '#888', lineWidth: 2, lineDash: [12, 10] } },
      ],
      series: [
        {
          type: 'scatter', name: 'Terrestrial planets', z: 2, data: terrestrial.map(toXY),
          symbol: 'circle', symbolSize: 6, itemStyle: { color: '#14208f', opacity: 1 }, silent: true,
        },
        {
          type: 'scatter', name: 'Reflected-light jovians', z: 3, data: reflected.map(toXY),
          symbol: 'circle', symbolSize: 9, itemStyle: { color: '#000', opacity: 1 }, silent: true,
        },
        {
          type: 'scatter', name: 'Self-luminous jovians', z: 4, data: selfLuminous.map(toXY),
          symbol: 'circle', symbolSize: 8, itemStyle: { color: '#2f6e1c', borderColor: '#000', borderWidth: 1.5, opacity: 1 }, silent: true,
        },
        {
          type: 'scatter', name: 'Taurus planets', z: 5, data: taurus.map(toXY),
          symbol: 'circle', symbolSize: 9, itemStyle: { color: '#e8461f', opacity: 1 }, silent: true,
        },
        {
          type: 'line', name: 'Gemini Planet Imager', z: 6, data: gpiCurve.map(toXY), showSymbol: false, symbol: 'none',
          lineStyle: { color: '#555', width: 1.8, type: [9, 7] }, silent: true,
        },
        {
          type: 'line', name: 'Thirty Meter Telescope PFI', z: 7, data: tmtCurve.map(toXY), showSymbol: false, symbol: 'none',
          lineStyle: { color: '#e8461f', width: 6, join: 'round' }, silent: true,
        },
        {
          type: 'custom', name: 'minor ticks', z: 8, silent: true, clip: false,
          data: minorTicks.map((v) => [v, 1e-11]),
          renderItem: (params: any, api: any) => {
            const v = api.value(0);
            const b = api.coord([v, 1e-11]);
            const t = api.coord([v, 1e-4]);
            return {
              type: 'group',
              children: [
                { type: 'line', shape: { x1: b[0], y1: b[1], x2: b[0], y2: b[1] - 12 }, style: { stroke: AX, lineWidth: 2 } },
                { type: 'line', shape: { x1: t[0], y1: t[1], x2: t[0], y2: t[1] + 12 }, style: { stroke: AX, lineWidth: 2 } },
              ],
            };
          },
        },
      ],
    });
    return () => chart.dispose();
  }, []);
  return <div ref={ref} style={{ width: 1659, height: 1209 }} />;
}
